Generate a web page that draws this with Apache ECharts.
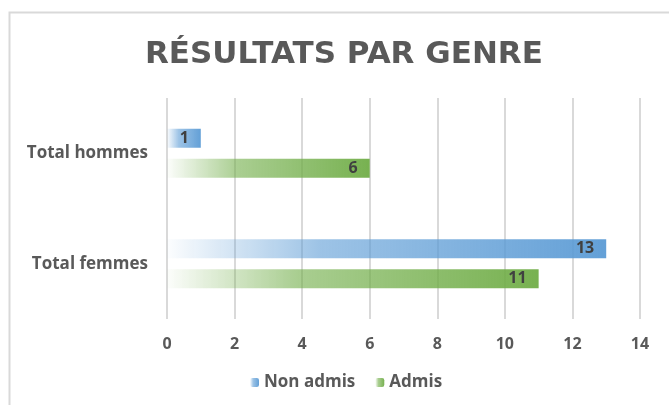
<!DOCTYPE html>
<html>
<head>
<meta charset="utf-8">
<script src="https://cdn.jsdelivr.net/npm/echarts@6/dist/echarts.min.js"></script>
<style>
  html, body { margin: 0; padding: 0; background: #fff; }
  #chart { width: 669px; height: 405px; }
</style>
</head>
<body>
<div id="chart"></div>
<script>
// données
var categories = ['Total hommes', 'Total femmes'];
var nonAdmis = [1, 13];
var admis = [6, 11];
var xTicks = [0, 14, 2]; // min, max, pas

function fondu(r, g, b) {
    return {
        type: 'linear', x: 0, y: 0, x2: 1, y2: 0,
        colorStops: [
            { offset: 0, color: 'rgba(' + r + ',' + g + ',' + b + ',0.02)' },
            { offset: 0.35, color: 'rgba(' + r + ',' + g + ',' + b + ',0.6)' },
            { offset: 1, color: 'rgba(' + r + ',' + g + ',' + b + ',0.95)' }
        ]
    };
}

var chart = echarts.init(document.getElementById('chart'));
var police = '"Open Sans", "DejaVu Sans", sans-serif';
var etiquette = {
    show: true,
    position: 'insideRight',
    distance: 12,
    color: '#404040',
    fontWeight: 'bold',
    fontSize: 16,
    fontFamily: police
};

chart.setOption({
    animation: false,
    graphic: [{
        type: 'rect',
        shape: { x: 9.5, y: 12.5, width: 700, height: 500 },
        style: { fill: 'none', stroke: '#d9d9d9', lineWidth: 2 },
        z: -10
    }],
    title: {
        text: 'RÉSULTATS PAR GENRE',
        left: 140,
        top: 34,
        textStyle: {
            color: '#595959',
            fontWeight: 'bold',
            fontSize: 31,
            fontFamily: '"DejaVu Sans", sans-serif'
        }
    },
    legend: {
        data: ['Non admis', 'Admis'],
        bottom: 9,
        left: 245,
        itemWidth: 9,
        itemHeight: 9,
        itemGap: 20,
        textStyle: {
            color: '#595959',
            fontSize: 17,
            fontWeight: 'bold',
            fontFamily: police
        }
    },
    grid: {
        left: 167,
        right: 29,
        top: 98,
        bottom: 86
    },
    xAxis: {
        type: 'value',
        min: xTicks[0],
        max: xTicks[1],
        interval: xTicks[2],
        axisLine: { show: false },
        axisTick: { show: false },
        splitLine: { lineStyle: { color: '#d9d9d9', width: 2 } },
        axisLabel: {
            margin: 17,
            color: '#595959',
            fontWeight: 'bold',
            fontSize: 16,
            fontFamily: police
        }
    },
    yAxis: {
        type: 'category',
        inverse: true,
        data: categories,
        axisLine: { show: false },
        axisTick: { show: false },
        axisLabel: {
            margin: 19,
            color: '#595959',
            fontWeight: 'bold',
            fontSize: 17,
            fontFamily: police
        }
    },
    series: [
        {
            name: 'Non admis',
            type: 'bar',
            barWidth: 19,
            barGap: '58%',
            data: nonAdmis,
            itemStyle: { color: fondu(91, 155, 213) },
            label: etiquette
        },
        {
            name: 'Admis',
            type: 'bar',
            barWidth: 19,
            barGap: '58%',
            data: admis,
            itemStyle: { color: fondu(112, 173, 71) },
            label: etiquette
        }
    ]
});
</script>
</body>
</html>
